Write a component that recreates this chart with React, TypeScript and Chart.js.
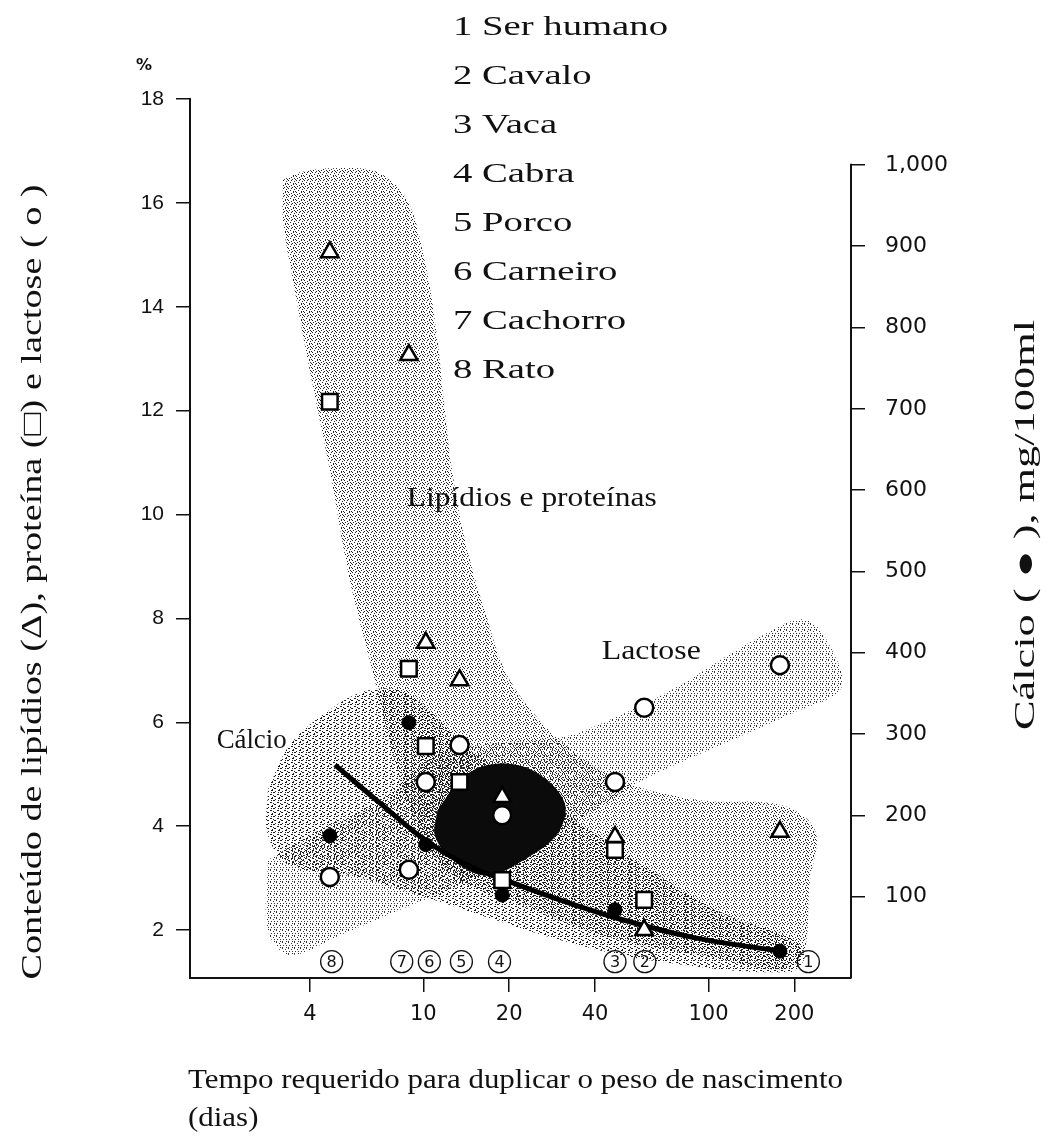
import React, { useEffect, useRef } from 'react';
import { Chart, registerables } from 'chart.js';

Chart.register(...registerables);

// ---------- DATA ----------
// species order: 1 human, 2 horse, 3 cow, 4 goat, 5 pig, 6 sheep, 7 dog, 8 rat
const speciesNames = ['Ser humano', 'Cavalo', 'Vaca', 'Cabra', 'Porco', 'Carneiro', 'Cachorro', 'Rato'];
const doublingDays = [178, 59.5, 47, 18.9, 13.4, 10.2, 8.9, 4.7];
const lipids = [3.89, 2.0, 3.79, 4.56, 6.81, 7.53, 13.07, 15.05];
const proteins: (number | null)[] = [null, 2.58, 3.54, 2.96, 4.85, 5.54, 7.03, 12.17];
const lactose = [7.1, 6.28, 4.85, 4.21, 5.56, 4.85, 3.16, 3.02];
const calcium: (number | null)[] = [33, null, 84, 102, null, 164, 314, 175];

// circled species numbers along the bottom
const labelDays = [224, 59.8, 47, 18.5, 13.6, 10.5, 8.4, 4.77];
const labelLevel = 1.39;

// calcium trend curve (right axis, mg/100ml)
const calciumCurveDays = [4.9, 7.05, 10.1, 14.6, 20.6, 30.1, 46.2, 88, 188];
const calciumCurveValues = [262, 215, 170, 137, 117, 96, 75, 50, 32];

// shaded bands (days, % on left axis)
const lipidBand: [number, number][] = [
  [3.22, 16.44], [3.69, 16.59], [5.1, 16.67], [6.93, 16.59], [8.76, 16.06], [10.1, 14.9],
  [11.1, 13.55], [11.9, 12.01], [12.6, 10.86], [14.0, 9.51], [16.4, 8.16], [20.1, 6.81],
  [30.1, 5.66], [48.9, 4.89], [93.3, 4.5], [178, 4.41], [236, 3.93], [227, 2.96],
  [201, 1.33], [93.3, 1.52], [48.9, 1.81], [30.1, 2.19], [20.1, 2.58], [13.4, 2.96],
  [10.1, 3.73], [7.94, 5.27], [6.76, 6.81], [5.52, 8.74], [4.7, 10.86], [4.06, 12.59],
  [3.54, 14.32], [3.22, 15.67], [3.22, 16.44],
];
const calciumBand: [number, number][] = [
  [2.85, 4.7], [3.4, 5.56], [4.7, 6.24], [6.49, 6.62], [8.97, 6.53], [14.6, 5.47],
  [30.1, 4.31], [62.3, 3.16], [116, 2.29], [193, 1.85], [218, 1.52], [193, 1.19],
  [62.3, 1.42], [30.1, 1.81], [15.8, 2.29], [9.73, 2.67], [5.52, 3.06], [3.4, 3.25],
  [2.85, 3.83], [2.85, 4.7],
];
const lactoseBand: [number, number][] = [
  [2.85, 3.35], [4.34, 3.93], [7.04, 4.5], [11.4, 5.4], [18.5, 5.6], [30.1, 5.7],
  [45.1, 6.05], [77.5, 6.68], [151, 7.64], [221, 7.97], [282, 7.2], [289, 6.62],
  [198, 6.18], [101, 5.47], [58.9, 4.89], [42.7, 4.41], [25.6, 3.64], [14.6, 2.96],
  [8.28, 2.39], [5.1, 1.9], [3.4, 1.52], [2.85, 2.0], [2.85, 3.35],
];
const overlapCore: [number, number][] = [
  [11.2, 4.3], [13.8, 4.95], [18.1, 5.2], [24.6, 5.05], [31.3, 4.45], [29.5, 3.85],
  [22.5, 3.35], [16.8, 3.05], [13.0, 3.3], [11.0, 3.8], [11.2, 4.3],
];

const xTicks = [4, 10, 20, 40, 100, 200];
const leftTicks = [2, 4, 6, 8, 10, 12, 14, 16, 18];
const rightTicks = [100, 200, 300, 400, 500, 600, 700, 800, 900, 1000];

const bandLabels = ['Lipídios e proteínas', 'Lactose', 'Cálcio'];
const leftTitle = 'Conteúdo de lipídios (Δ), proteína (□) e lactose ( o )';
const rightTitle = 'Cálcio ( ● ), mg/100ml';
const xTitle = ['Tempo requerido para duplicar o peso de nascimento', '(dias)'];

const SERIF = '"Liberation Serif", "Times New Roman", Times, serif';

// ---------- helpers ----------
function makePattern(ctx: CanvasRenderingContext2D, rows: string[], color: string) {
  const c = document.createElement('canvas');
  c.width = rows[0].length;
  c.height = rows.length;
  const g = c.getContext('2d')!;
  g.fillStyle = color;
  rows.forEach((r, y) => {
    for (let x = 0; x < r.length; x++) if (r[x] === '#') g.fillRect(x, y, 1, 1);
  });
  return ctx.createPattern(c, 'repeat')!;
}

function drawStretched(
  ctx: CanvasRenderingContext2D, text: string, x: number, y: number, size: number,
  width: number | null, align: CanvasTextAlign, rotation = 0, sxFixed?: number,
) {
  ctx.save();
  ctx.font = `${size}px ${SERIF}`;
  const w = ctx.measureText(text).width;
  const sx = sxFixed ?? (width ? width / w : 1);
  ctx.translate(x, y);
  ctx.rotate(rotation);
  ctx.scale(sx, 1);
  ctx.textAlign = align;
  ctx.textBaseline = 'middle';
  ctx.fillStyle = '#111';
  ctx.fillText(text, 0, 0);
  ctx.restore();
  return sx;
}

const toPoints = (vals: (number | null)[]) =>
  doublingDays
    .map((d, i) => (vals[i] == null ? null : { x: d, y: vals[i] as number }))
    .filter((p) => p !== null) as { x: number; y: number }[];

const polyPoints = (poly: [number, number][]) => poly.map(([x, y]) => ({ x, y }));

function buildChart(canvas: HTMLCanvasElement) {
  const ctx = canvas.getContext('2d')!;

  const lipidPattern = makePattern(ctx, [
    '#....#..',
    '...#....',
    '.#....#.',
    '....#..#',
    '#..#....',
    '......#.',
    '..#.....',
    '.....#.#',
  ], '#222');
  const calciumPattern = makePattern(ctx, [
    '##...#.',
    '.......',
    '....##.',
    '#......',
    '.##....',
    '......#',
    '.....##',
    '..#....',
  ], '#1a1a1a');
  const lactosePattern = makePattern(ctx, [
    '#.....',
    '...#..',
    '......',
    '.#..#.',
    '......',
    '#...#.',
  ], '#333');

  const bandDataset = (data: [number, number][], bg: any, order: number) => ({
    type: 'line' as const,
    data: polyPoints(data),
    showLine: true,
    fill: 'shape' as const,
    backgroundColor: bg,
    borderColor: 'rgba(0,0,0,0)',
    borderWidth: 0,
    pointRadius: 0,
    tension: 0.35,
    xAxisID: 'x',
    yAxisID: 'y',
    order,
  });

  const overlay = {
    id: 'overlay',
    afterDraw(chart: any) {
      const c = chart.ctx as CanvasRenderingContext2D;
      const { x, y, y2 } = chart.scales;
      const area = chart.chartArea;
      // right axis line only from 1,000 downwards
      c.save();
      c.strokeStyle = '#111';
      c.lineWidth = 2;
      c.beginPath();
      c.moveTo(area.right, y2.getPixelForValue(rightTicks[rightTicks.length - 1]) - 1);
      c.lineTo(area.right, area.bottom);
      c.stroke();
      c.restore();

      // circled species numbers
      labelDays.forEach((d, i) => {
        const px = x.getPixelForValue(d);
        const py = y.getPixelForValue(labelLevel);
        c.save();
        c.strokeStyle = '#111';
        c.lineWidth = 1.3;
        c.beginPath();
        c.arc(px, py, 11, 0, Math.PI * 2);
        c.stroke();
        c.fillStyle = '#111';
        c.font = '16px "DejaVu Sans", sans-serif';
        c.textAlign = 'center';
        c.textBaseline = 'middle';
        c.fillText(String(i + 1), px, py + 1);
        c.restore();
      });

      // band labels (in data coordinates)
      drawStretched(c, bandLabels[0], x.getPixelForValue(24), y.getPixelForValue(10.3), 28, 250, 'center');
      drawStretched(c, bandLabels[1], x.getPixelForValue(63), y.getPixelForValue(7.35), 28, 99, 'center');
      drawStretched(c, bandLabels[2], x.getPixelForValue(2.5), y.getPixelForValue(5.65), 28, 70, 'center');

      // species legend list
      const sx = drawStretched(c, `1 ${speciesNames[0]}`, 453, 28, 28, 215, 'left');
      speciesNames.slice(1).forEach((n, i) => {
        drawStretched(c, `${i + 2} ${n}`, 453, 28 + (i + 1) * 48.9, 28, null, 'left', 0, sx);
      });

      // percent sign above left axis
      c.save();
      c.font = 'bold 16px "DejaVu Sans", sans-serif';
      c.fillStyle = '#111';
      c.textAlign = 'center';
      c.textBaseline = 'middle';
      c.fillText('%', area.left - 46, area.top - 33);
      c.restore();

      // axis titles
      drawStretched(c, leftTitle, 33, 582, 29, 795, 'center', -Math.PI / 2);
      drawStretched(c, rightTitle, 1026, 525, 29, 410, 'center', -Math.PI / 2);
      const sx2 = drawStretched(c, xTitle[0], area.left - 2, 1081, 28, 655, 'left');
      drawStretched(c, xTitle[1], area.left - 2, 1119, 28, null, 'left', 0, sx2);
    },
  };

  const tickFont = { family: 'DejaVu Sans', size: 21 };

  return new Chart(canvas, {
    type: 'scatter',
    data: {
      datasets: [
        bandDataset(lipidBand, lipidPattern, 20),
        bandDataset(calciumBand, calciumPattern, 19),
        bandDataset(lactoseBand, lactosePattern, 18),
        bandDataset(overlapCore, '#0b0b0b', 17),
        {
          type: 'line',
          data: calciumCurveDays.map((d, i) => ({ x: d, y: calciumCurveValues[i] })),
          showLine: true,
          fill: false,
          borderColor: '#000',
          borderWidth: 5,
          pointRadius: 0,
          cubicInterpolationMode: 'monotone',
          xAxisID: 'x',
          yAxisID: 'y2',
          order: 10,
        } as any,
        {
          data: toPoints(calcium),
          pointStyle: 'circle',
          pointRadius: 7,
          backgroundColor: '#000',
          borderColor: '#000',
          borderWidth: 1,
          xAxisID: 'x',
          yAxisID: 'y2',
          order: 4,
        },
        {
          data: toPoints(lactose),
          pointStyle: 'circle',
          pointRadius: 9,
          backgroundColor: '#fff',
          borderColor: '#000',
          borderWidth: 2.5,
          xAxisID: 'x',
          yAxisID: 'y',
          order: 3,
        },
        {
          data: toPoints(proteins),
          pointStyle: 'rect',
          pointRadius: 11,
          backgroundColor: '#fff',
          borderColor: '#000',
          borderWidth: 2.5,
          xAxisID: 'x',
          yAxisID: 'y',
          order: 2,
        },
        {
          data: toPoints(lipids),
          pointStyle: 'triangle',
          pointRadius: 10,
          backgroundColor: '#fff',
          borderColor: '#000',
          borderWidth: 2.5,
          xAxisID: 'x',
          yAxisID: 'y',
          order: 1,
        },
      ] as any,
    },
    options: {
      animation: false,
      responsive: false,
      devicePixelRatio: 1,
      layout: { padding: { top: 99, left: 0, right: 0, bottom: 0 } },
      plugins: {
        legend: { display: false },
        tooltip: { enabled: false },
        title: { display: false },
      },
      scales: {
        x: {
          type: 'logarithmic',
          min: 1.52,
          max: 316,
          afterBuildTicks: (s: any) => { s.ticks = xTicks.map((v) => ({ value: v })); },
          afterFit: (s: any) => { s.height = 169; },
          ticks: {
            callback: (v: any) => String(v),
            font: tickFont,
            color: '#111',
            padding: 10,
            autoSkip: false,
            maxRotation: 0,
          },
          grid: { drawOnChartArea: false, drawTicks: true, tickLength: 14, color: '#111', lineWidth: 1.5 },
          border: { display: true, color: '#111', width: 2 },
        },
        y: {
          type: 'linear',
          position: 'left',
          min: 1.076,
          max: 18,
          afterBuildTicks: (s: any) => { s.ticks = leftTicks.map((v) => ({ value: v })); },
          afterFit: (s: any) => { s.width = 190; },
          ticks: {
            callback: (v: any) => String(v),
            font: { family: 'Liberation Sans', size: 21 },
            color: '#111',
            padding: 12,
          },
          grid: { drawOnChartArea: false, drawTicks: true, tickLength: 14, color: '#111', lineWidth: 1.5 },
          border: { display: true, color: '#111', width: 2 },
        },
        y2: {
          type: 'linear',
          position: 'right',
          min: 0,
          max: 1081,
          afterBuildTicks: (s: any) => { s.ticks = rightTicks.map((v) => ({ value: v })); },
          afterFit: (s: any) => { s.width = 199; },
          ticks: {
            callback: (v: any) => (v === 1000 ? '1,000' : String(v)),
            font: { family: 'DejaVu Sans', size: 22 },
            color: '#111',
            padding: 20,
          },
          grid: { drawOnChartArea: false, drawTicks: true, tickLength: 14, color: '#111', lineWidth: 1.5 },
          border: { display: false },
        },
      },
    } as any,
    plugins: [overlay],
  });
}

export default function App() {
  const ref = useRef<HTMLCanvasElement>(null);

  useEffect(() => {
    let chart: Chart | null = null;
    let cancelled = false;
    const fonts = ['28px "Liberation Serif"', '21px "Liberation Sans"', '21px "DejaVu Sans"'];
    const start = () => {
      if (cancelled || chart) return;
      chart = buildChart(ref.current!);
    };
    Promise.all(fonts.map((f) => document.fonts.load(f)))
      .then(start, start);
    return () => {
      cancelled = true;
      if (chart) chart.destroy();
    };
  }, []);

  return (
    <div style={{ position: 'absolute', left: 0, top: 0, width: 1050, height: 1147, background: '#fff' }}>
      <canvas ref={ref} width={1050} height={1147} style={{ display: 'block' }} />
    </div>
  );
}
